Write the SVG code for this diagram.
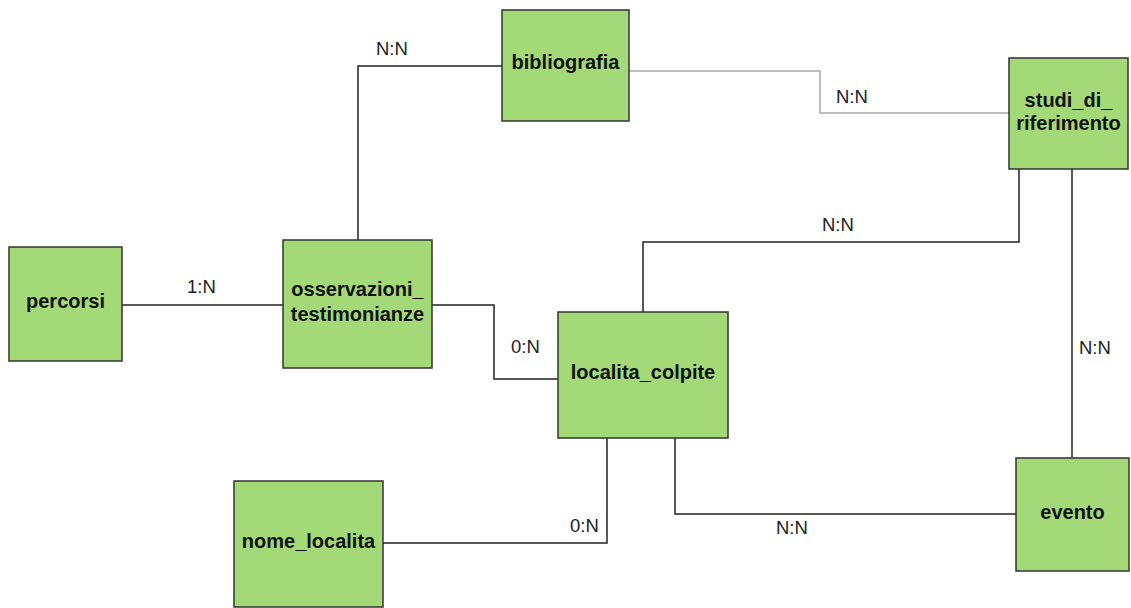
<svg xmlns="http://www.w3.org/2000/svg" width="1131" height="608" viewBox="0 0 1131 608">
<style>
.n rect{fill:#a3d977;stroke:#333;stroke-width:1.5}
.n text{font-family:"Liberation Sans",Arial,sans-serif;font-weight:bold;font-size:20px;fill:#111;text-anchor:middle}
.c path{fill:none;stroke:#222;stroke-width:1.5}
.c path.g{stroke:#aaa}
.l{font-family:"Liberation Sans",Arial,sans-serif;font-size:18.5px;fill:#222}
</style>
<rect width="1131" height="608" fill="#fff"/>
<g id="connectors" class="c">
<path class="g" d="M629,71 H820 V113 H1009"/>
<path d="M502,66 H358 V240"/>
<path d="M122,305 H283"/>
<path d="M432,305 H494 V379 H558"/>
<path d="M643,312 V242 H1019 V169"/>
<path d="M1072,169 V458"/>
<path d="M675,438 V514 H1016"/>
<path d="M383,543 H607 V438"/>
</g>
<g id="labels" class="l">
<text x="376" y="55">N:N</text>
<text x="836" y="103">N:N</text>
<text x="187" y="293">1:N</text>
<text x="511" y="353">0:N</text>
<text x="822" y="231">N:N</text>
<text x="1079" y="354">N:N</text>
<text x="776" y="534">N:N</text>
<text x="570" y="532">0:N</text>
</g>
<g id="bibliografia" class="n"><rect x="502" y="10" width="127" height="111"/><text x="565.5" y="69">bibliografia</text></g>
<g id="studi_di_riferimento" class="n"><rect x="1009" y="58" width="119" height="111"/><text x="1068.5" y="107">studi_di_</text><text x="1068.5" y="130">riferimento</text></g>
<g id="percorsi" class="n"><rect x="9" y="247" width="113" height="114"/><text x="65.5" y="308">percorsi</text></g>
<g id="osservazioni_testimonianze" class="n"><rect x="283" y="240" width="149" height="128"/><text x="357.5" y="296">osservazioni_</text><text x="357.5" y="321">testimonianze</text></g>
<g id="localita_colpite" class="n"><rect x="558" y="312" width="170" height="126"/><text x="643" y="379">localita_colpite</text></g>
<g id="nome_localita" class="n"><rect x="234" y="481" width="149" height="126"/><text x="308.5" y="548">nome_localita</text></g>
<g id="evento" class="n"><rect x="1016" y="458" width="113" height="113"/><text x="1072.5" y="519">evento</text></g>
</svg>
